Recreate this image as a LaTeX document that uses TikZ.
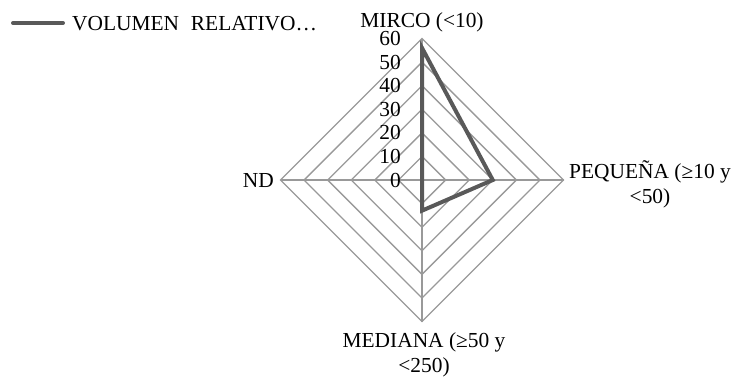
\documentclass[tikz,border=0pt]{standalone}
\usepackage{fontspec}
\setmainfont{Liberation Serif}
\begin{document}
\begin{tikzpicture}[x=1pt,y=-1pt,
  gridline/.style={draw=gray!80!white,line width=1.3pt},
  series/.style={draw=black!65,line width=4pt,line join=miter},
  lbl/.style={inner sep=0pt,font=\fontsize{21.4}{25}\selectfont},
  tick/.style={inner sep=0pt,anchor=east,font=\fontsize{21.4}{25}\selectfont}]
\useasboundingbox (0,0) rectangle (731,376);
\def\cx{422}\def\cy{180}\def\R{141.5}
\coordinate (c) at (\cx,\cy);
% grid rings
\foreach \k in {1,...,6}{
  \pgfmathsetmacro{\r}{\k*\R/6}
  \draw[gridline] (\cx,\cy-\r) -- (\cx+\r,\cy) -- (\cx,\cy+\r) -- (\cx-\r,\cy) -- cycle;
}
% axes
\coordinate (atop) at (\cx,\cy-\R);
\coordinate (aright) at (\cx+\R,\cy);
\coordinate (abot) at (\cx,\cy+\R);
\coordinate (aleft) at (\cx-\R,\cy);
\draw[gridline] (c) -- (atop);
\draw[gridline] (c) -- (aright);
\draw[gridline] (c) -- (abot);
\draw[gridline] (c) -- (aleft);
% tick labels
\foreach \v in {0,10,...,60}{
  \node[tick] (t\v) at (401,\cy-\v*\R/60) {\v};
}
% data
\coordinate (ptop) at (\cx,\cy-56*\R/60);
\coordinate (pright) at (\cx+30*\R/60,\cy);
\coordinate (pbot) at (\cx,\cy+13*\R/60);
\coordinate (pleft) at (c);
\draw[series] (ptop) -- (pright) -- (pbot) -- (pleft) -- cycle;
% axis labels
\node[lbl,anchor=base] (lmirco) at (422,27) {MIRCO (<10)};
\node[lbl,anchor=north,align=center] (lpeq) at (650,160) {PEQUEÑA (≥10 y\\<50)};
\node[lbl,anchor=north,align=center] (lmed) at (424,332.5) {MEDIANA (≥50 y\\<250)};
\node[lbl,anchor=base east] (lnd) at (274,187) {ND};
% legend
\coordinate (lg1) at (13,23);
\coordinate (lg2) at (63,23);
\draw[series,line cap=round] (lg1) -- (lg2);
\node[lbl,anchor=base west] (lgtext) at (72,30) {VOLUMEN\hspace{0.55em}RELATIVO…};
\end{tikzpicture}
\end{document}
